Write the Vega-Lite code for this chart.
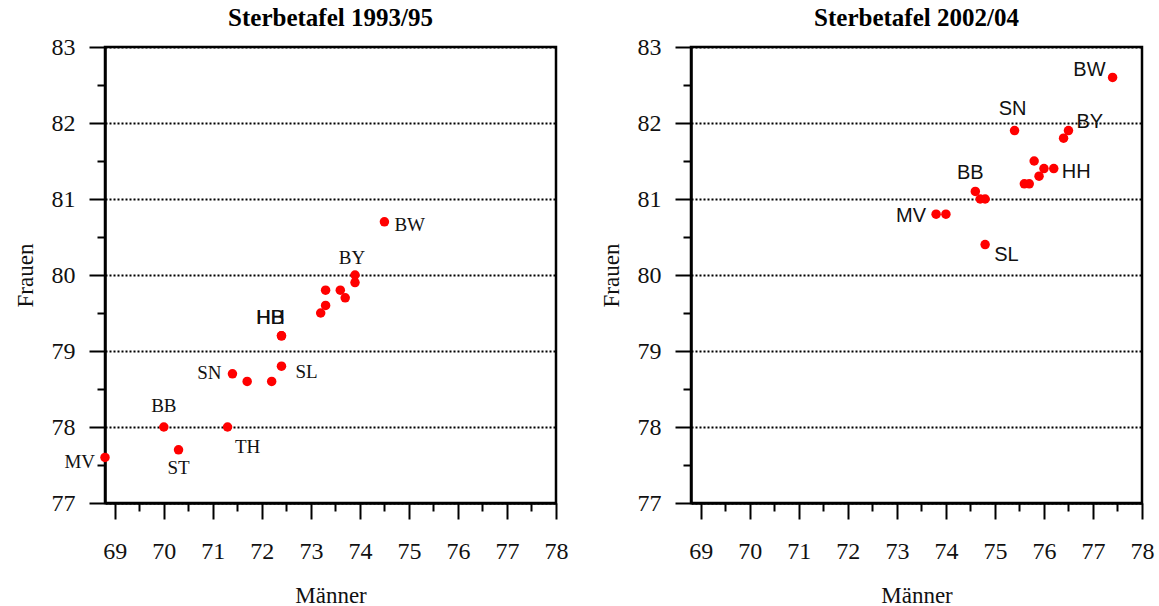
{
  "$schema": "https://vega.github.io/schema/vega-lite/v6.json",
  "padding": {"left": 12, "top": 4, "right": 5, "bottom": 0},
  "background": "white",
  "datasets": {
    "t9395": [
      {"Land": "MV", "Männer": 68.8, "Frauen": 77.6},
      {"Land": "BB", "Männer": 70.0, "Frauen": 78.0},
      {"Land": "ST", "Männer": 70.3, "Frauen": 77.7},
      {"Land": "TH", "Männer": 71.3, "Frauen": 78.0},
      {"Land": "SN", "Männer": 71.4, "Frauen": 78.7},
      {"Land": "", "Männer": 71.7, "Frauen": 78.6},
      {"Land": "", "Männer": 72.2, "Frauen": 78.6},
      {"Land": "SL", "Männer": 72.4, "Frauen": 78.8},
      {"Land": "HH", "Männer": 72.4, "Frauen": 79.2},
      {"Land": "HB", "Männer": 72.4, "Frauen": 79.2},
      {"Land": "", "Männer": 73.2, "Frauen": 79.5},
      {"Land": "", "Männer": 73.3, "Frauen": 79.6},
      {"Land": "", "Männer": 73.3, "Frauen": 79.8},
      {"Land": "", "Männer": 73.6, "Frauen": 79.8},
      {"Land": "", "Männer": 73.7, "Frauen": 79.7},
      {"Land": "BY", "Männer": 73.9, "Frauen": 80.0},
      {"Land": "", "Männer": 73.9, "Frauen": 79.9},
      {"Land": "BW", "Männer": 74.5, "Frauen": 80.7}
    ],
    "t0204": [
      {"Land": "MV", "Männer": 73.8, "Frauen": 80.8},
      {"Land": "", "Männer": 74.0, "Frauen": 80.8},
      {"Land": "SL", "Männer": 74.8, "Frauen": 80.4},
      {"Land": "BB", "Männer": 74.6, "Frauen": 81.1},
      {"Land": "", "Männer": 74.7, "Frauen": 81.0},
      {"Land": "", "Männer": 74.8, "Frauen": 81.0},
      {"Land": "SN", "Männer": 75.4, "Frauen": 81.9},
      {"Land": "", "Männer": 75.6, "Frauen": 81.2},
      {"Land": "", "Männer": 75.7, "Frauen": 81.2},
      {"Land": "", "Männer": 75.8, "Frauen": 81.5},
      {"Land": "", "Männer": 75.9, "Frauen": 81.3},
      {"Land": "", "Männer": 76.0, "Frauen": 81.4},
      {"Land": "HH", "Männer": 76.2, "Frauen": 81.4},
      {"Land": "", "Männer": 76.4, "Frauen": 81.8},
      {"Land": "BY", "Männer": 76.5, "Frauen": 81.9},
      {"Land": "BW", "Männer": 77.4, "Frauen": 82.6}
    ]
  },
  "config": {
    "view": {"stroke": "black", "strokeWidth": 2.5},
    "concat": {"spacing": 28},
    "style": {"guide-label": {"font": "Liberation Serif", "fontSize": 24}},
    "title": {"font": "Liberation Serif", "fontSize": 25, "fontWeight": "bold", "color": "black", "offset": 4},
    "axis": {
      "labelFont": "Liberation Serif",
      "labelFontSize": 24,
      "labelColor": "#111",
      "titleFont": "Liberation Serif",
      "titleFontSize": 23,
      "titleFontWeight": "normal",
      "titleColor": "#111",
      "domainColor": "black",
      "domainWidth": 2.5,
      "tickColor": "black",
      "tickWidth": 2,
      "labelFlush": false,
      "labelOverlap": false
    }
  },
  "hconcat": [
    {
      "title": "Sterbetafel 1993/95",
      "width": 451,
      "height": 456,
      "data": {"name": "t9395"},
      "encoding": {
        "x": {"field": "Männer", "type": "quantitative",
          "scale": {"domain": [68.8, 78], "nice": false, "zero": false},
          "axis": {"values": [69, 69.5, 70, 70.5, 71, 71.5, 72, 72.5, 73, 73.5, 74, 74.5, 75, 75.5, 76, 76.5, 77, 77.5, 78],
            "labelExpr": "datum.value % 1 === 0 ? format(datum.value, 'd') : ''",
            "tickSize": {"condition": {"test": "datum.value % 1 === 0", "value": 16}, "value": 8},
            "labelPadding": 20, "titlePadding": 21, "grid": false}},
        "y": {"field": "Frauen", "type": "quantitative",
          "scale": {"domain": [77, 83], "nice": false, "zero": false},
          "axis": {"values": [77, 77.5, 78, 78.5, 79, 79.5, 80, 80.5, 81, 81.5, 82, 82.5, 83],
            "labelExpr": "datum.value % 1 === 0 ? format(datum.value, 'd') : ''",
            "tickSize": {"condition": {"test": "datum.value % 1 === 0", "value": 16}, "value": 8},
            "labelPadding": 14, "titlePadding": 14,
            "grid": true, "gridColor": "black", "gridDash": [2, 2], "gridWidth": 2,
            "gridOpacity": {"condition": {"test": "datum.value % 1 === 0", "value": 1}, "value": 0}}}
      },
      "layer": [
        {"mark": {"type": "circle", "size": 90, "color": "#ff0000", "opacity": 1}},
        {"transform": [{"filter": {"field": "Land", "equal": "MV"}}], "mark": {"type": "text", "font": "Liberation Serif", "fontSize": 19, "align": "right", "baseline": "middle", "dx": -10, "dy": 5, "color": "#111"}, "encoding": {"text": {"field": "Land"}}},
        {"transform": [{"filter": {"field": "Land", "equal": "BB"}}], "mark": {"type": "text", "font": "Liberation Serif", "fontSize": 19, "align": "center", "baseline": "middle", "dx": 0, "dy": -21, "color": "#111"}, "encoding": {"text": {"field": "Land"}}},
        {"transform": [{"filter": {"field": "Land", "equal": "ST"}}], "mark": {"type": "text", "font": "Liberation Serif", "fontSize": 19, "align": "center", "baseline": "middle", "dx": 0, "dy": 18, "color": "#111"}, "encoding": {"text": {"field": "Land"}}},
        {"transform": [{"filter": {"field": "Land", "equal": "TH"}}], "mark": {"type": "text", "font": "Liberation Serif", "fontSize": 19, "align": "center", "baseline": "middle", "dx": 20, "dy": 20, "color": "#111"}, "encoding": {"text": {"field": "Land"}}},
        {"transform": [{"filter": {"field": "Land", "equal": "SN"}}], "mark": {"type": "text", "font": "Liberation Serif", "fontSize": 19, "align": "right", "baseline": "middle", "dx": -11, "dy": -1, "color": "#111"}, "encoding": {"text": {"field": "Land"}}},
        {"transform": [{"filter": {"field": "Land", "equal": "SL"}}], "mark": {"type": "text", "font": "Liberation Serif", "fontSize": 19, "align": "left", "baseline": "middle", "dx": 14, "dy": 6, "color": "#111"}, "encoding": {"text": {"field": "Land"}}},
        {"transform": [{"filter": {"field": "Land", "oneOf": ["HH", "HB"]}}], "mark": {"type": "text", "font": "Liberation Sans", "fontSize": 20, "align": "center", "baseline": "middle", "dx": -11, "dy": -18, "color": "#111"}, "encoding": {"text": {"field": "Land"}}},
        {"transform": [{"filter": {"field": "Land", "equal": "BY"}}], "mark": {"type": "text", "font": "Liberation Serif", "fontSize": 19, "align": "center", "baseline": "middle", "dx": -3, "dy": -17, "color": "#111"}, "encoding": {"text": {"field": "Land"}}},
        {"transform": [{"filter": {"field": "Land", "equal": "BW"}}], "mark": {"type": "text", "font": "Liberation Serif", "fontSize": 19, "align": "left", "baseline": "middle", "dx": 10, "dy": 3, "color": "#111"}, "encoding": {"text": {"field": "Land"}}}
      ]
    },
    {
      "title": "Sterbetafel 2002/04",
      "width": 451,
      "height": 456,
      "data": {"name": "t0204"},
      "encoding": {
        "x": {"field": "Männer", "type": "quantitative",
          "scale": {"domain": [68.8, 78], "nice": false, "zero": false},
          "axis": {"values": [69, 69.5, 70, 70.5, 71, 71.5, 72, 72.5, 73, 73.5, 74, 74.5, 75, 75.5, 76, 76.5, 77, 77.5, 78],
            "labelExpr": "datum.value % 1 === 0 ? format(datum.value, 'd') : ''",
            "tickSize": {"condition": {"test": "datum.value % 1 === 0", "value": 16}, "value": 8},
            "labelPadding": 20, "titlePadding": 21, "grid": false}},
        "y": {"field": "Frauen", "type": "quantitative",
          "scale": {"domain": [77, 83], "nice": false, "zero": false},
          "axis": {"values": [77, 77.5, 78, 78.5, 79, 79.5, 80, 80.5, 81, 81.5, 82, 82.5, 83],
            "labelExpr": "datum.value % 1 === 0 ? format(datum.value, 'd') : ''",
            "tickSize": {"condition": {"test": "datum.value % 1 === 0", "value": 16}, "value": 8},
            "labelPadding": 14, "titlePadding": 14,
            "grid": true, "gridColor": "black", "gridDash": [2, 2], "gridWidth": 2,
            "gridOpacity": {"condition": {"test": "datum.value % 1 === 0", "value": 1}, "value": 0}}}
      },
      "layer": [
        {"mark": {"type": "circle", "size": 90, "color": "#ff0000", "opacity": 1}},
        {"transform": [{"filter": {"field": "Land", "equal": "BW"}}], "mark": {"type": "text", "font": "Liberation Sans", "fontSize": 20, "align": "right", "baseline": "middle", "dx": -7, "dy": -7, "color": "#111"}, "encoding": {"text": {"field": "Land"}}},
        {"transform": [{"filter": {"field": "Land", "equal": "SN"}}], "mark": {"type": "text", "font": "Liberation Sans", "fontSize": 20, "align": "center", "baseline": "middle", "dx": -2, "dy": -22, "color": "#111"}, "encoding": {"text": {"field": "Land"}}},
        {"transform": [{"filter": {"field": "Land", "equal": "BY"}}], "mark": {"type": "text", "font": "Liberation Sans", "fontSize": 20, "align": "left", "baseline": "middle", "dx": 8, "dy": -9, "color": "#111"}, "encoding": {"text": {"field": "Land"}}},
        {"transform": [{"filter": {"field": "Land", "equal": "HH"}}], "mark": {"type": "text", "font": "Liberation Sans", "fontSize": 20, "align": "left", "baseline": "middle", "dx": 8, "dy": 3, "color": "#111"}, "encoding": {"text": {"field": "Land"}}},
        {"transform": [{"filter": {"field": "Land", "equal": "BB"}}], "mark": {"type": "text", "font": "Liberation Sans", "fontSize": 20, "align": "center", "baseline": "middle", "dx": -5, "dy": -18, "color": "#111"}, "encoding": {"text": {"field": "Land"}}},
        {"transform": [{"filter": {"field": "Land", "equal": "MV"}}], "mark": {"type": "text", "font": "Liberation Sans", "fontSize": 20, "align": "right", "baseline": "middle", "dx": -10, "dy": 2, "color": "#111"}, "encoding": {"text": {"field": "Land"}}},
        {"transform": [{"filter": {"field": "Land", "equal": "SL"}}], "mark": {"type": "text", "font": "Liberation Sans", "fontSize": 20, "align": "left", "baseline": "middle", "dx": 9, "dy": 10, "color": "#111"}, "encoding": {"text": {"field": "Land"}}}
      ]
    }
  ]
}
